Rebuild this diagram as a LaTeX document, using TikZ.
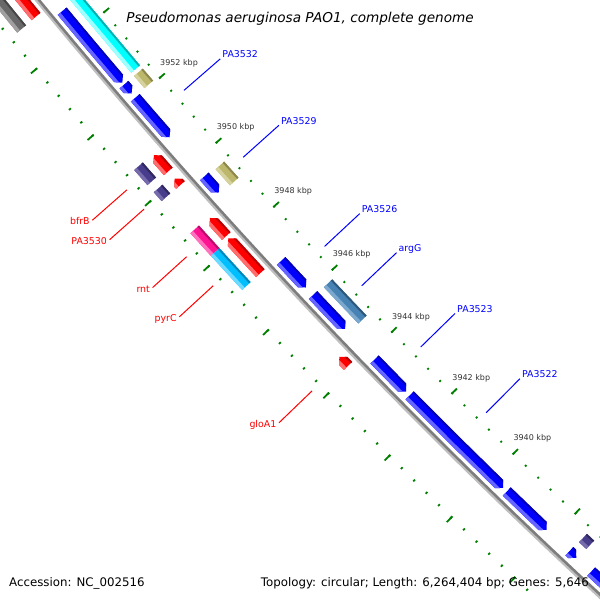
\documentclass[tikz,border=0pt]{standalone}
\usepackage{fontspec}
\setmainfont{DejaVu Sans}[ItalicFont={DejaVu Sans Oblique}]
\makeatletter
\def\g@split#1,#2\relax{\def\g@k{#1}\def\g@d{#2}}
\tikzdeclarecoordinatesystem{g}{%
  \g@split#1\relax
  \pgfmathsetmacro\g@dk{3946-(\g@k)}%
  \pgfmathsetmacro\g@A{(43.3391+(\g@d)*0.00721)*\g@dk}%
  \pgfmathsetmacro\g@del{\g@dk*0.00721}%
  \pgfmathsetmacro\g@x{\g@A*(1-\g@del*\g@del/6)}%
  \pgfmathsetmacro\g@y{\g@A*\g@del/2-(\g@d)}%
  \pgfpointxy{\g@x}{\g@y}}
\makeatother
\definecolor{blm}{RGB}{0,0,255}\definecolor{bll}{RGB}{102,102,255}\definecolor{bld}{RGB}{0,0,185}
\definecolor{cym}{RGB}{0,255,255}\definecolor{cyl}{RGB}{160,255,255}\definecolor{cyd}{RGB}{0,175,175}
\definecolor{khm}{RGB}{189,183,107}\definecolor{khl}{RGB}{214,210,160}\definecolor{khd}{RGB}{140,136,78}
\definecolor{rdm}{RGB}{255,0,0}\definecolor{rdl}{RGB}{255,110,110}\definecolor{rdd}{RGB}{185,0,0}
\definecolor{pum}{RGB}{72,61,139}\definecolor{pul}{RGB}{118,108,172}\definecolor{pud}{RGB}{48,40,96}
\definecolor{pkm}{RGB}{255,20,147}\definecolor{pkl}{RGB}{255,115,190}\definecolor{pkd}{RGB}{185,12,105}
\definecolor{skm}{RGB}{0,191,255}\definecolor{skl}{RGB}{110,218,255}\definecolor{skd}{RGB}{0,135,185}
\definecolor{stm}{RGB}{70,130,180}\definecolor{stl}{RGB}{125,168,205}\definecolor{std}{RGB}{44,88,124}
\definecolor{gym}{RGB}{105,105,105}\definecolor{gyl}{RGB}{160,160,160}\definecolor{gyd}{RGB}{70,70,70}
\definecolor{bbd}{RGB}{125,125,125}\definecolor{bbl}{RGB}{190,190,190}
\definecolor{tickgreen}{RGB}{0,128,0}
\def\hh{0.13}
\newcommand{\bands}[5]{%
  \pgfmathsetmacro\kA{(#1)+0.3}\pgfmathsetmacro\kB{(#2)-0.3}\pgfmathsetmacro\kC{((#1)+(#2))/2}%
  \pgfmathsetmacro\dA{(#3)-1}\pgfmathsetmacro\dB{(#4)+1}%
  \pgfmathsetmacro\dC{(#3)+0.17*((#4)-(#3))}%
  \pgfmathsetmacro\dD{(#4)-0.3*((#4)-(#3))}%
  \fill[#5m] (g cs:\kA,\dA) -- (g cs:\kC,\dA) -- (g cs:\kB,\dA) -- (g cs:\kB,\dB) -- (g cs:\kC,\dB) -- (g cs:\kA,\dB) -- cycle;
  \fill[#5d] (g cs:\kA,\dA) -- (g cs:\kC,\dA) -- (g cs:\kB,\dA) -- (g cs:\kB,\dC) -- (g cs:\kC,\dC) -- (g cs:\kA,\dC) -- cycle;
  \fill[#5l] (g cs:\kA,\dD) -- (g cs:\kC,\dD) -- (g cs:\kB,\dD) -- (g cs:\kB,\dB) -- (g cs:\kC,\dB) -- (g cs:\kA,\dB) -- cycle;}
\newcommand{\Bfeat}[5]{%
  \begin{scope}
  \pgfmathsetmacro\kM{((#1)+(#2))/2}%
  \clip (g cs:#1,#3) -- (g cs:\kM,#3) -- (g cs:#2,#3) -- (g cs:#2,#4) -- (g cs:\kM,#4) -- (g cs:#1,#4) -- cycle;
  \bands{#1}{#2}{#3}{#4}{#5}
  \end{scope}}
\newcommand{\Ffeat}[5]{%
  \begin{scope}
  \pgfmathsetmacro\kM{((#1)+(#2)+\hh)/2}\pgfmathsetmacro\kH{(#2)+\hh}\pgfmathsetmacro\dM{((#3)+(#4))/2}%
  \clip (g cs:#1,#3) -- (g cs:\kM,#3) -- (g cs:\kH,#3) -- (g cs:#2,\dM) -- (g cs:\kH,#4) -- (g cs:\kM,#4) -- (g cs:#1,#4) -- cycle;
  \bands{#1}{#2}{#3}{#4}{#5}
  \end{scope}}
\newcommand{\Rfeat}[5]{%
  \begin{scope}
  \pgfmathsetmacro\kM{((#1)+(#2)-\hh)/2}\pgfmathsetmacro\kH{(#1)-\hh}\pgfmathsetmacro\dM{((#3)+(#4))/2}%
  \clip (g cs:#2,#3) -- (g cs:\kM,#3) -- (g cs:\kH,#3) -- (g cs:#1,\dM) -- (g cs:\kH,#4) -- (g cs:\kM,#4) -- (g cs:#2,#4) -- cycle;
  \bands{#1}{#2}{#3}{#4}{#5}
  \end{scope}}
\tikzset{
  tick/.style={draw=tickgreen, line width=1.8pt},
  tlab/.style={font=\fontsize{8}{9}\selectfont, text=black!80, inner sep=0pt},
  blab/.style={font=\fontsize{9.4}{11}\selectfont, text=blm, inner sep=0pt},
  rlab/.style={font=\fontsize{9.4}{11}\selectfont, text=rdm, inner sep=0pt},
  bline/.style={draw=blm, line width=1pt},
  rline/.style={draw=rdm, line width=1pt},
  foot/.style={font=\fontsize{11.8}{14}\selectfont, inner sep=0pt},
}
\begin{document}
\begin{tikzpicture}[x=1pt,y=1pt]
\useasboundingbox (0,0) rectangle (600,-600);
\fill[white] (0,0) rectangle (600,-600);
\begin{scope}
\clip (0,0) rectangle (600,-600);
\begin{scope}[shift={(4680,3818)}]
\begin{scope}[shift={(223.235:6011)},rotate=313.235]
  % backbone
  \draw[bbl, line width=2.2pt] (g cs:3960,1.4) \foreach \k in {3959,3958,...,3930} { -- (g cs:\k,1.4) };
  \draw[bbd, line width=2.6pt] (g cs:3960,-1.0) \foreach \k in {3959,3958,...,3930} { -- (g cs:\k,-1.0) };
  % ticks
  \foreach \j in {0,...,64} {
    \pgfmathsetmacro\kk{3932.4+0.4*\j}
    \draw[tick] (g cs:\kk,-42.5) -- (g cs:\kk,-44.5);
    \draw[tick] (g cs:\kk,44) -- (g cs:\kk,46.5);
  }
  \foreach \k in {3934,3936,...,3958} {
    \draw[tick] (g cs:\k,-42.5) -- (g cs:\k,-50);
    \draw[tick] (g cs:\k,44) -- (g cs:\k,52);
  }
  \foreach \k in {3940,3942,...,3952} { \coordinate (T\k) at (g cs:\k,-46.25); }
  % upper row 1: forward arrows
  \Ffeat{3954.64}{3952.48}{-17.5}{-6}{bl}
  \Ffeat{3952.42}{3952.15}{-17.5}{-6}{bl}
  \Ffeat{3952.02}{3950.81}{-17.5}{-6}{bl}
  \Ffeat{3949.60}{3949.10}{-17.5}{-6}{bl}
  \Ffeat{3946.96}{3946.12}{-17.5}{-6}{bl}
  \Ffeat{3945.88}{3944.80}{-17.5}{-6}{bl}
  \Ffeat{3943.82}{3942.78}{-17.5}{-6}{bl}
  \Ffeat{3942.66}{3939.62}{-17.5}{-6}{bl}
  \Ffeat{3939.50}{3938.22}{-17.5}{-6}{bl}
  \Ffeat{3937.50}{3937.28}{-17.5}{-6}{bl}
  \Ffeat{3936.81}{3933.00}{-17.5}{-6}{bl}
  % upper row 2: boxes
  \Bfeat{3957.50}{3952.52}{-36.5}{-25}{cy}
  \Bfeat{3952.42}{3952.05}{-36.5}{-25}{kh}
  \Bfeat{3949.55}{3949.05}{-36.5}{-25}{kh}
  \Bfeat{3945.84}{3944.68}{-36.5}{-25}{st}
  \Bfeat{3937.48}{3937.25}{-36.5}{-25}{pu}
  % lower row 1: reverse arrows
  \Rfeat{3958.50}{3954.93}{6}{17.5}{rd}
  \Rfeat{3950.74}{3950.24}{6}{17.5}{rd}
  \Rfeat{3950.02}{3949.82}{6}{17.5}{rd}
  \Rfeat{3948.80}{3948.24}{6}{17.5}{rd}
  \Rfeat{3948.17}{3947.08}{6}{17.5}{rd}
  \Rfeat{3944.43}{3944.14}{6}{17.5}{rd}
  % lower row 2: boxes
  \Bfeat{3958.50}{3954.92}{25}{36.5}{gy}
  \Bfeat{3950.78}{3950.32}{25}{36.5}{pu}
  \Bfeat{3950.10}{3949.83}{25}{36.5}{pu}
  \Bfeat{3948.84}{3948.14}{25}{36.5}{pk}
  \Bfeat{3948.14}{3947.08}{25}{36.5}{sk}
  % label anchors
  \coordinate (a1) at (g cs:3951.41,-53.5); \coordinate (b1) at (g cs:3951.41,-101.5);
  \coordinate (a2) at (g cs:3949.33,-53.5); \coordinate (b2) at (g cs:3949.33,-101.5);
  \coordinate (a3) at (g cs:3946.52,-53.5); \coordinate (b3) at (g cs:3946.52,-101.5);
  \coordinate (a4) at (g cs:3945.26,-53.5); \coordinate (b4) at (g cs:3945.26,-101.5);
  \coordinate (a5) at (g cs:3943.28,-53.5); \coordinate (b5) at (g cs:3943.28,-101.5);
  \coordinate (a6) at (g cs:3941.12,-53.5); \coordinate (b6) at (g cs:3941.12,-101.5);
  \coordinate (c1) at (g cs:3950.55,55); \coordinate (e1) at (g cs:3950.55,101);
  \coordinate (c2) at (g cs:3949.96,55); \coordinate (e2) at (g cs:3949.96,101);
  \coordinate (c3) at (g cs:3948.50,55); \coordinate (e3) at (g cs:3948.50,101);
  \coordinate (c4) at (g cs:3947.60,55); \coordinate (e4) at (g cs:3947.60,101);
  \coordinate (c5) at (g cs:3944.30,55); \coordinate (e5) at (g cs:3944.30,101);
\end{scope}
\end{scope}
% tick labels
\foreach \k in {3940,3942,...,3952} { \node[tlab, anchor=west] at ([shift={(-2,13)}]T\k) {\k\ kbp}; }
% feature labels (blue, forward)
\node[blab, anchor=base west] (PA3532) at ([shift={(2,1)}]b1) {PA3532};
\node[blab, anchor=base west] (PA3529) at ([shift={(2,1)}]b2) {PA3529};
\node[blab, anchor=base west] (PA3526) at ([shift={(2,1)}]b3) {PA3526};
\node[blab, anchor=base west] (argG) at ([shift={(2,1)}]b4) {argG};
\node[blab, anchor=base west] (PA3523) at ([shift={(2,1)}]b5) {PA3523};
\node[blab, anchor=base west] (PA3522) at ([shift={(2,1)}]b6) {PA3522};
\draw[bline] (a1) -- (b1); \draw[bline] (a2) -- (b2); \draw[bline] (a3) -- (b3);
\draw[bline] (a4) -- (b4); \draw[bline] (a5) -- (b5); \draw[bline] (a6) -- (b6);
% feature labels (red, reverse)
\node[rlab, anchor=base east] (bfrB) at ([shift={(-2.5,-4.5)}]e1) {bfrB};
\node[rlab, anchor=base east] (PA3530) at ([shift={(-2.5,-4.5)}]e2) {PA3530};
\node[rlab, anchor=base east] (rnt) at ([shift={(-2.5,-4.5)}]e3) {rnt};
\node[rlab, anchor=base east] (pyrC) at ([shift={(-2.5,-4.5)}]e4) {pyrC};
\node[rlab, anchor=base east] (gloA1) at ([shift={(-2.5,-4.5)}]e5) {gloA1};
\draw[rline] (c1) -- (e1); \draw[rline] (c2) -- (e2); \draw[rline] (c3) -- (e3);
\draw[rline] (c4) -- (e4); \draw[rline] (c5) -- (e5);
\end{scope}
% title and footer
\node[font=\fontsize{13.6}{16}\selectfont\itshape, inner sep=0pt, anchor=base] (title) at (300,-22.7) {Pseudomonas aeruginosa PAO1, complete genome};
\node[foot, anchor=base west] (acc) at (9,-586) {Accession: NC\_002516};
\node[foot, anchor=base east] (topo) at (589,-586) {Topology: circular; Length: 6,264,404 bp; Genes: 5,646};
\end{tikzpicture}
\end{document}
